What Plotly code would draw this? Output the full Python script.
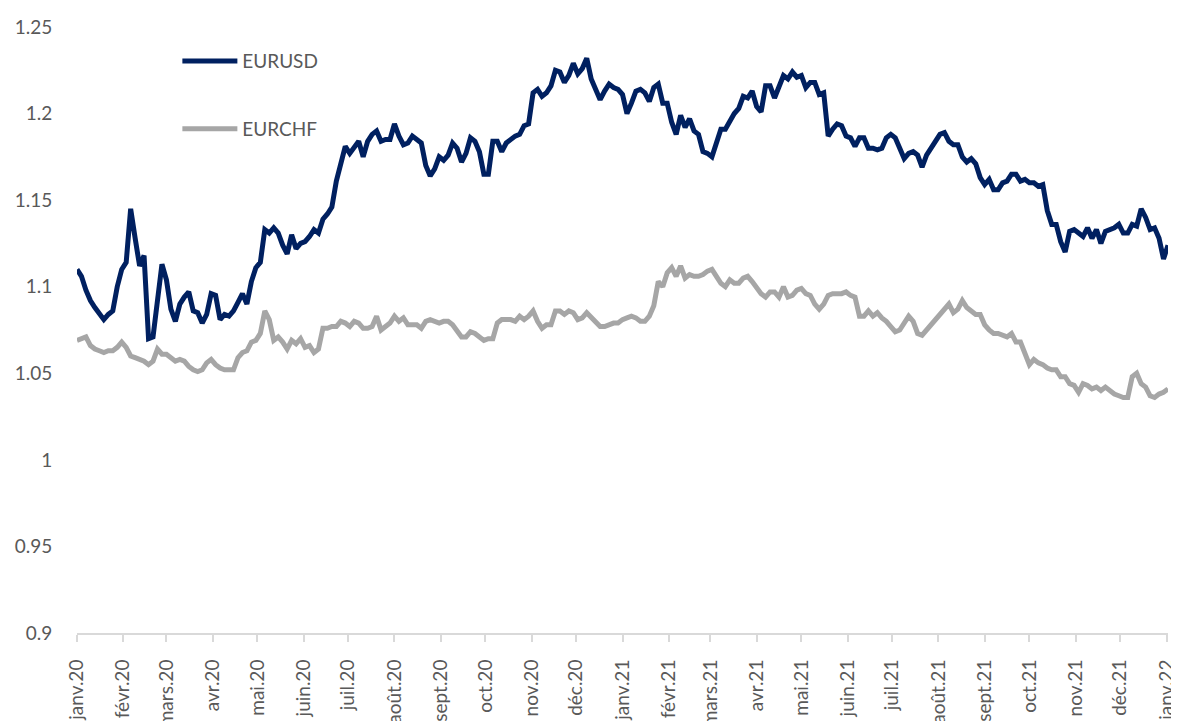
import pandas as pd
import plotly.graph_objects as go

# Values, one every 3 calendar days starting 2020-01-01
eurusd = [
    1.110, 1.106, 1.098, 1.092, 1.088, 1.085, 1.081, 1.084, 1.086, 1.100,
    1.110, 1.114, 1.145, 1.128, 1.112, 1.118, 1.070, 1.071, 1.094, 1.113,
    1.104, 1.087, 1.080, 1.090, 1.094, 1.097, 1.086, 1.085, 1.079, 1.084,
    1.096, 1.095, 1.081, 1.084, 1.083, 1.086, 1.091, 1.096, 1.090, 1.103,
    1.111, 1.114, 1.133, 1.131, 1.134, 1.131, 1.124, 1.119, 1.130, 1.122,
    1.125, 1.126, 1.129, 1.133, 1.131, 1.139, 1.142, 1.146, 1.161, 1.170,
    1.181, 1.177, 1.181, 1.184, 1.175, 1.184, 1.188, 1.190, 1.184, 1.185,
    1.185, 1.194, 1.187, 1.182, 1.183, 1.187, 1.185, 1.183, 1.170, 1.164,
    1.168, 1.175, 1.173, 1.176, 1.183, 1.180, 1.172, 1.177, 1.186, 1.184,
    1.178, 1.165, 1.165, 1.184, 1.184, 1.178, 1.183, 1.185, 1.187, 1.188,
    1.193, 1.194, 1.212, 1.214, 1.210, 1.212, 1.216, 1.225, 1.224, 1.218,
    1.222, 1.229, 1.223, 1.226, 1.232, 1.220, 1.214, 1.208, 1.213, 1.217,
    1.215, 1.214, 1.211, 1.200, 1.206, 1.213, 1.214, 1.212, 1.207, 1.215,
    1.217, 1.206, 1.206, 1.195, 1.188, 1.199, 1.192, 1.197, 1.190, 1.188,
    1.178, 1.177, 1.175, 1.182, 1.191, 1.191, 1.196, 1.200, 1.203, 1.210,
    1.209, 1.213, 1.204, 1.201, 1.216, 1.216, 1.209, 1.215, 1.222, 1.220,
    1.224, 1.221, 1.222, 1.215, 1.218, 1.218, 1.211, 1.212, 1.187, 1.191,
    1.194, 1.193, 1.187, 1.186, 1.181, 1.186, 1.186, 1.180, 1.180, 1.179,
    1.180, 1.186, 1.188, 1.186, 1.179, 1.174, 1.177, 1.178, 1.176, 1.169,
    1.176, 1.180, 1.183, 1.188, 1.189, 1.184, 1.182, 1.182, 1.175, 1.172,
    1.174, 1.171, 1.163, 1.159, 1.162, 1.156, 1.156, 1.160, 1.161, 1.165,
    1.165, 1.161, 1.162, 1.160, 1.160, 1.158, 1.159, 1.144, 1.136, 1.136,
    1.126, 1.120, 1.132, 1.133, 1.131, 1.129, 1.134, 1.128, 1.133, 1.125,
    1.132, 1.133, 1.134, 1.136, 1.131, 1.131, 1.136, 1.135, 1.145, 1.140,
    1.133, 1.134, 1.128, 1.116, 1.124,
]

eurchf = [
    1.069, 1.070, 1.071, 1.066, 1.064, 1.063, 1.062, 1.063, 1.063, 1.065,
    1.068, 1.065, 1.060, 1.059, 1.058, 1.057, 1.055, 1.057, 1.064, 1.061,
    1.061, 1.059, 1.057, 1.058, 1.057, 1.054, 1.052, 1.051, 1.052, 1.056,
    1.058, 1.055, 1.053, 1.052, 1.052, 1.052, 1.059, 1.062, 1.063, 1.068,
    1.069, 1.073, 1.086, 1.081, 1.069, 1.071, 1.068, 1.064, 1.069, 1.067,
    1.070, 1.065, 1.066, 1.062, 1.064, 1.076, 1.076, 1.077, 1.077, 1.080,
    1.079, 1.077, 1.080, 1.079, 1.076, 1.076, 1.077, 1.083, 1.075, 1.077,
    1.079, 1.083, 1.080, 1.082, 1.078, 1.078, 1.078, 1.076, 1.080, 1.081,
    1.080, 1.079, 1.080, 1.080, 1.078, 1.075, 1.071, 1.071, 1.074, 1.073,
    1.071, 1.069, 1.070, 1.070, 1.079, 1.081, 1.081, 1.081, 1.080, 1.083,
    1.081, 1.083, 1.086, 1.080, 1.076, 1.078, 1.078, 1.086, 1.086, 1.084,
    1.086, 1.085, 1.081, 1.082, 1.085, 1.082, 1.080, 1.077, 1.077, 1.078,
    1.079, 1.079, 1.081, 1.082, 1.083, 1.082, 1.080, 1.080, 1.083, 1.089,
    1.103, 1.100, 1.108, 1.111, 1.106, 1.112, 1.105, 1.107, 1.106, 1.106,
    1.107, 1.109, 1.110, 1.106, 1.102, 1.100, 1.104, 1.102, 1.102, 1.105,
    1.106, 1.103, 1.099, 1.096, 1.094, 1.097, 1.097, 1.094, 1.100, 1.094,
    1.095, 1.098, 1.099, 1.096, 1.095, 1.090, 1.087, 1.090, 1.095, 1.096,
    1.096, 1.096, 1.097, 1.095, 1.094, 1.083, 1.083, 1.086, 1.083, 1.085,
    1.082, 1.080, 1.077, 1.074, 1.075, 1.079, 1.083, 1.080, 1.073, 1.072,
    1.075, 1.077, 1.081, 1.084, 1.086, 1.090, 1.085, 1.087, 1.092, 1.088,
    1.086, 1.084, 1.084, 1.078, 1.075, 1.073, 1.073, 1.072, 1.071, 1.073,
    1.068, 1.068, 1.062, 1.055, 1.058, 1.056, 1.055, 1.053, 1.052, 1.052,
    1.048, 1.048, 1.044, 1.043, 1.039, 1.044, 1.043, 1.041, 1.042, 1.040,
    1.042, 1.040, 1.038, 1.037, 1.036, 1.036, 1.048, 1.050, 1.044, 1.042,
    1.037, 1.036, 1.038, 1.039, 1.041,
]

month_labels = [
    "janv.20", "févr.20", "mars.20", "avr.20", "mai.20", "juin.20", "juil.20",
    "août.20", "sept.20", "oct.20", "nov.20", "déc.20",
    "janv.21", "févr.21", "mars.21", "avr.21", "mai.21", "juin.21", "juil.21",
    "août.21", "sept.21", "oct.21", "nov.21", "déc.21", "janv.22",
]

y_ticks = [0.9, 0.95, 1.0, 1.05, 1.1, 1.15, 1.2, 1.25]
y_labels = ["0.9", "0.95", "1", "1.05", "1.1", "1.15", "1.2", "1.25"]

dates = pd.date_range("2020-01-01", periods=len(eurusd), freq="3D")
month_ticks = pd.date_range("2020-01-01", "2022-01-01", freq="MS")

FONT = "Lato, 'Open Sans', sans-serif"
TXT = "#595959"

fig = go.Figure()
fig.add_trace(go.Scatter(
    x=dates, y=eurusd, name="EURUSD", mode="lines", legendgroup="a",
    line=dict(color="#002060", width=5),
))
fig.add_trace(go.Scatter(
    x=dates, y=eurchf, name="EURCHF", mode="lines", legendgroup="b",
    line=dict(color="#A6A6A6", width=5),
))

# The page body adds an 8px offset, so the figure is 8px smaller than the window
fig.update_layout(
    width=1171, height=713,
    margin=dict(l=69, r=11, t=19, b=88, autoexpand=False),
    paper_bgcolor="white", plot_bgcolor="white",
    font=dict(family=FONT, size=19, color=TXT),
    showlegend=True,
    legend=dict(
        x=0.092, y=0.975, xanchor="left", yanchor="top",
        bgcolor="rgba(0,0,0,0)", tracegroupgap=40, itemwidth=55,
        font=dict(family=FONT, size=19, color=TXT),
    ),
    xaxis=dict(
        type="date",
        range=["2020-01-01", "2022-01-02"],
        tickvals=month_ticks, ticktext=month_labels,
        tickangle=-90, automargin=False,
        ticks="outside", ticklen=7, tickwidth=2, tickcolor="#D9D9D9",
        showline=True, linecolor="#D9D9D9", linewidth=2,
        showgrid=False, zeroline=False,
        ticklabelstandoff=10,
        tickfont=dict(family=FONT, size=19, color=TXT),
    ),
    yaxis=dict(
        range=[0.9, 1.25], automargin=False,
        tickvals=y_ticks, ticktext=y_labels,
        showline=False, showgrid=False, zeroline=False,
        ticks="outside", ticklen=20, tickcolor="rgba(0,0,0,0)",
        tickfont=dict(family=FONT, size=19, color=TXT),
    ),
)

fig.write_html("out.html")
